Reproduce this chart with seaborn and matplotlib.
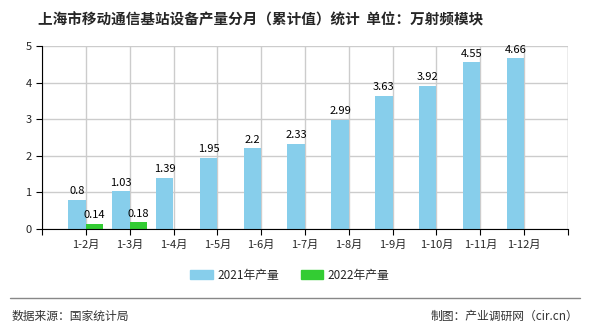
import matplotlib
matplotlib.use("Agg")
import matplotlib.pyplot as plt
import seaborn as sns
import pandas as pd
from matplotlib.lines import Line2D

categories = ["1-2月", "1-3月", "1-4月", "1-5月", "1-6月", "1-7月", "1-8月", "1-9月", "1-10月", "1-11月", "1-12月"]
values_2021 = [0.8, 1.03, 1.39, 1.95, 2.2, 2.33, 2.99, 3.63, 3.92, 4.55, 4.66]
values_2022 = [0.14, 0.18]
series_names = ["2021年产量", "2022年产量"]
colors = ["#87CEEB", "#33CC33"]
title = "上海市移动通信基站设备产量分月（累计值）统计  单位：万射频模块"
source_left = "数据来源：国家统计局"
source_right = "制图：产业调研网（cir.cn）"

sns.set_style("white")
plt.rcParams['font.family'] = ['Noto Sans CJK SC', 'DejaVu Sans']

rows = []
for c, v in zip(categories, values_2021):
    rows.append({"cat": c, "series": series_names[0], "val": v})
for c, v in zip(categories, values_2022):
    rows.append({"cat": c, "series": series_names[1], "val": v})
df = pd.DataFrame(rows)

fig = plt.figure(figsize=(5.9, 3.3), dpi=100)
ax = fig.add_axes([42/590, 1-229/330, (568-42)/590, (229-46)/330])

sns.barplot(data=df, x="cat", y="val", hue="series", order=categories,
            hue_order=series_names, palette=colors, width=0.8, dodge=True,
            saturation=1, ax=ax, legend=False, linewidth=0, edgecolor="none")

for cont in ax.containers:
    for bar in cont:
        h = bar.get_height()
        if h != h or h == 0:
            continue
        ax.text(bar.get_x() + bar.get_width()/2, h + 0.1, f"{h:g}",
                ha="center", va="bottom", fontsize=8, color="#000000")

ax.set_xlim(-1, 11)
ax.set_ylim(0, 5)
ax.set_yticks(range(0, 6))
ax.set_xticks(range(-1, 12), minor=False)
ax.set_xticklabels([""] + categories + [""], fontsize=8)
ax.tick_params(axis="y", labelsize=8, length=4, direction="out", left=True, color="#000000")
ax.tick_params(axis="x", length=4, direction="out", bottom=True, color="#000000")
ax.set_xlabel("")
ax.set_ylabel("")
ax.grid(True, color="#cccccc", linewidth=1)
ax.set_axisbelow(True)
for s in ["top", "right"]:
    ax.spines[s].set_visible(False)
ax.spines["left"].set_color("#000000")
ax.spines["bottom"].set_color("#000000")
ax.axvline(11, color="#cccccc", linewidth=1, zorder=0)

handles = [plt.Rectangle((0, 0), 1, 1, color=c) for c in colors]
fig.legend(handles, series_names, loc="center", bbox_to_anchor=(290/590, 1-275/330),
           ncol=2, frameon=False, fontsize=8.5, handlelength=1.9, handleheight=0.9,
           columnspacing=1.8, handletextpad=0.4)

fig.text(261/590, 1-19/330, title, ha="center", va="center", fontsize=10.5, fontweight="bold")
fig.add_artist(Line2D([10/590, 580/590], [1-298/330, 1-298/330], color="#888888", linewidth=1))
fig.text(12/590, 1-316/330, source_left, ha="left", va="center", fontsize=8.5, color="#333333")
fig.text(578/590, 1-316/330, source_right, ha="right", va="center", fontsize=8.5, color="#333333")

fig.savefig("out.png", dpi=100)
